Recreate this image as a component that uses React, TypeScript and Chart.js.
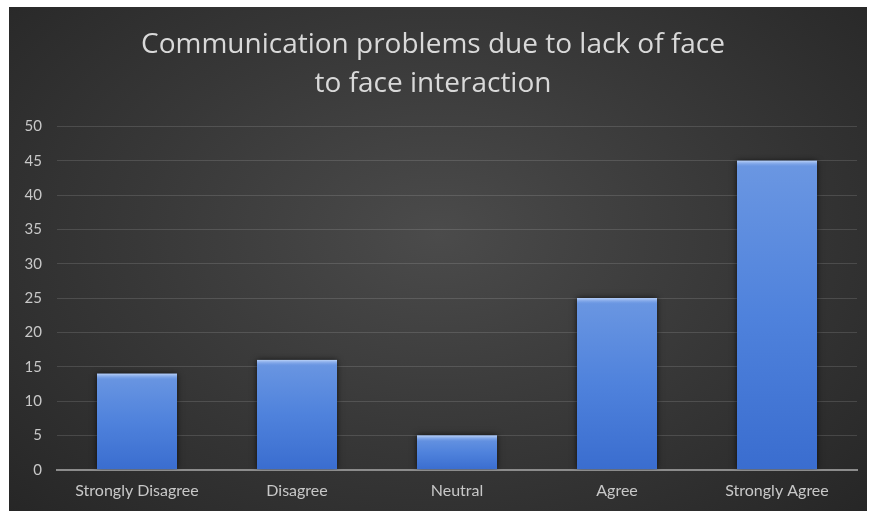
import React, { useEffect, useRef } from "react";
import { Chart, registerables } from "chart.js";

Chart.register(...registerables);

const categories = ["Strongly Disagree", "Disagree", "Neutral", "Agree", "Strongly Agree"];
const responses = [14, 16, 5, 25, 45];
const titleLines = ["Communication problems due to lack of face", "to face interaction"];
const yMax = 50;
const yStep = 5;

// soft shadow around bars plus a light highlight strip along each bar's top
const barEffects = {
  id: "barEffects",
  beforeDatasetsDraw(chart: any) {
    const ctx = chart.ctx;
    ctx.save();
    ctx.shadowColor = "rgba(0,0,0,0.7)";
    ctx.shadowBlur = 6;
    ctx.shadowOffsetX = 0;
    ctx.shadowOffsetY = 0;
  },
  afterDatasetsDraw(chart: any) {
    const ctx = chart.ctx;
    ctx.restore();
    const meta = chart.getDatasetMeta(0);
    ctx.save();
    meta.data.forEach((bar: any) => {
      const { x, y, width } = bar.getProps(["x", "y", "width"], true);
      const g = ctx.createLinearGradient(0, y, 0, y + 6);
      g.addColorStop(0, "rgba(190,212,248,0.95)");
      g.addColorStop(1, "rgba(120,160,232,0)");
      ctx.fillStyle = g;
      ctx.fillRect(x - width / 2, y, width, 6);
    });
    ctx.restore();
  },
};

export default function App() {
  const canvasRef = useRef<HTMLCanvasElement | null>(null);

  useEffect(() => {
    if (!canvasRef.current) return;
    const chart = new Chart(canvasRef.current, {
      type: "bar",
      data: {
        labels: categories,
        datasets: [
          {
            data: responses,
            backgroundColor: (ctx: any) => {
              const c = ctx.chart;
              const area = c.chartArea;
              if (!area || ctx.parsed == null) return "#4a7fdc";
              const top = c.scales.y.getPixelForValue(ctx.parsed.y);
              const bottom = c.scales.y.getPixelForValue(0);
              const g = c.ctx.createLinearGradient(0, top, 0, bottom);
              g.addColorStop(0, "#6b97e2");
              g.addColorStop(0.5, "#4f82dc");
              g.addColorStop(1, "#3a6dcf");
              return g;
            },
            borderWidth: 0,
            categoryPercentage: 1,
            barPercentage: 0.5,
          },
        ],
      },
      options: {
        animation: false,
        responsive: true,
        maintainAspectRatio: false,
        layout: { padding: { left: 0, right: 10, top: 0, bottom: 0 } },
        plugins: {
          legend: { display: false },
          tooltip: { enabled: false },
          title: {
            display: true,
            text: titleLines,
            color: "#d9d9d9",
            font: { family: "'Open Sans', sans-serif", size: 28, weight: "normal", lineHeight: 1.4 },
            padding: { top: 18, bottom: 23 },
          },
        },
        scales: {
          x: {
            grid: { display: false, drawTicks: false },
            border: { display: true, color: "#8c8c8c", width: 2 },
            ticks: {
              color: "#c8c8c8",
              font: { family: "Lato, 'Noto Sans', sans-serif", size: 16 },
              padding: 11,
              maxRotation: 0,
            },
          },
          y: {
            min: 0,
            max: yMax,
            afterFit: (scale: any) => {
              scale.width = 48;
            },
            grid: { color: "rgba(255,255,255,0.13)", lineWidth: 1, drawTicks: false },
            border: { display: false },
            ticks: {
              stepSize: yStep,
              color: "#c8c8c8",
              font: { family: "Lato, 'Noto Sans', sans-serif", size: 15 },
              padding: 15,
            },
          },
        },
      },
      plugins: [barEffects],
    });
    return () => chart.destroy();
  }, []);

  return (
    <div
      style={{
        position: "absolute",
        left: 9,
        top: 7,
        width: 858,
        height: 504,
        background: "radial-gradient(ellipse 70% 80% at 50% 45%, #4b4b4b 0%, #383838 50%, #262626 100%)",
      }}
    >
      <canvas ref={canvasRef} />
    </div>
  );
}
